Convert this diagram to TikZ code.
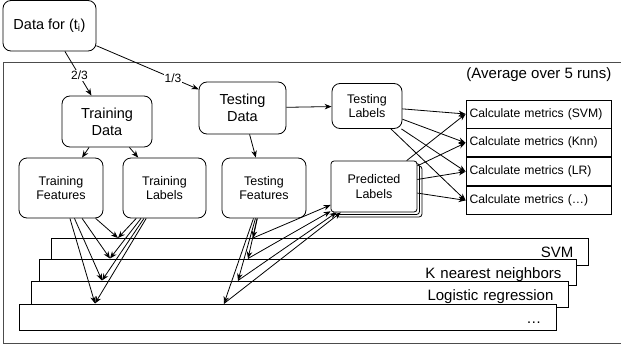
\documentclass[tikz,border=0pt]{standalone}
\usepackage{fontspec}
\setmainfont{Liberation Sans}
\usepackage{tikz}
\usetikzlibrary{arrows.meta,positioning,shadows}

\begin{document}
\begin{tikzpicture}[x=1pt, y=-1pt, line width=0.8pt, >={Stealth[length=7pt,width=5.5pt]},
	box/.style={draw, rounded corners=8pt, align=center, inner sep=0pt, font=\fontsize{12.5}{14.5}\selectfont},
	bigbox/.style={box, font=\fontsize{14.5}{17}\selectfont},
	metric/.style={draw, minimum height=28pt, text width=138pt, inner xsep=3.5pt, align=left, font=\fontsize{12.2}{14.5}\selectfont},
	model/.style={draw, fill=white, anchor=north west, minimum height=26.5pt, text width=507pt, inner xsep=15pt, text height=12pt, text depth=0pt, align=right, font=\fontsize{15}{18}\selectfont},
	share/.style={fill=white, inner sep=1pt, font=\fontsize{12}{14}\selectfont}]
	\useasboundingbox (0,0) rectangle (621,348);
	% frame of the repeated runs
	\draw[gray!60!black] (3.5,62) rectangle (630,343);
	\node[anchor=east, font=\fontsize{15}{18}\selectfont] (runs) at (615,75) {(Average over 5 runs)};

	\node[bigbox, minimum width=93pt, minimum height=50.5pt] (data) at (49.5,25.75) {Data for (t\textsubscript{i})};
	\node[bigbox, minimum width=90pt, minimum height=51pt] (trd) at (107,121.5) {Training\\Data};
	\node[bigbox, minimum width=87pt, minimum height=52pt] (tsd) at (242.5,108) {Testing\\Data};
	\node[box, minimum width=70pt, minimum height=45pt] (tsl) at (367,106) {Testing\\Labels};
	\node[box, minimum width=84pt, minimum height=60pt] (trf) at (61,188) {Training\\Features};
	\node[box, minimum width=83pt, minimum height=60pt] (trl) at (164.5,188) {Training\\Labels};
	\node[box, minimum width=84pt, minimum height=60pt] (tsf) at (264,188) {Testing\\Features};
	\node[box, rounded corners=3pt, fill=white, minimum width=86pt, minimum height=51pt,
		double copy shadow={shadow xshift=2.5pt, shadow yshift=-2.5pt}] (pred) at (374,186.5) {Predicted\\Labels};

	\node[metric] (msvm) at (538.5,114) {Calculate metrics (SVM)};
	\node[metric, below=0pt of msvm] (mknn) {Calculate metrics (Knn)};
	\node[metric, below=0pt of mknn] (mlr) {Calculate metrics (LR)};
	\node[metric, below=0pt of mlr] (metc) {Calculate metrics (\ldots)};

	% classifiers, back to front
	\node[model, minimum width=536pt] (svm) at (51,238) {SVM};
	\node[model, minimum width=537pt] (knn) at (39,258.5) {K nearest neighbors};
	\node[model, minimum width=537pt] (lr) at (31,280.5) {Logistic regression};
	\node[model, minimum width=537pt] (etc) at (19,303.5) {\ldots};
	\coordinate (svm-fit) at (118,238);  \coordinate (svm-pred) at (253,238);
	\coordinate (knn-fit) at (110,258.5); \coordinate (knn-pred) at (248,258.5);
	\coordinate (lr-fit) at (102,280.5);  \coordinate (lr-pred) at (238,280.5);
	\coordinate (etc-fit) at (95,303.5);  \coordinate (etc-pred) at (224,303.5);

	\draw[->] (data) -- node[share, pos=0.55] {2/3} (trd);
	\draw[->] (data) -- node[share, pos=0.75] {1/3} (tsd);
	\draw[->] (trd) -- (trf);
	\draw[->] (trd) -- (trl);
	\draw[->] (tsd) -- (tsf);
	\draw[->] (tsd) -- (tsl);

	\draw[->] (trf) -- (svm-fit); \draw[->] (trf) -- (knn-fit); \draw[->] (trf) -- (lr-fit); \draw[->] (trf) -- (etc-fit);
	\draw[->] (trl) -- (svm-fit); \draw[->] (trl) -- (knn-fit); \draw[->] (trl) -- (lr-fit); \draw[->] (trl) -- (etc-fit);
	\draw[->] (tsf) -- (svm-pred); \draw[->] (tsf) -- (knn-pred); \draw[->] (tsf) -- (lr-pred); \draw[->] (tsf) -- (etc-pred);
	\draw[->] (svm-pred) -- (pred); \draw[->] (knn-pred) -- (pred); \draw[->] (lr-pred) -- (pred); \draw[->] (etc-pred) -- (pred);

	\draw[->] (tsl) -- (msvm.west); \draw[->] (tsl) -- (mknn.west); \draw[->] (tsl) -- (mlr.west); \draw[->] (tsl) -- (metc.west);
	\draw[->] (pred) -- (msvm.west); \draw[->] (pred) -- (mknn.west); \draw[->] (pred) -- (mlr.west); \draw[->] (pred) -- (metc.west);
\end{tikzpicture}
\end{document}
